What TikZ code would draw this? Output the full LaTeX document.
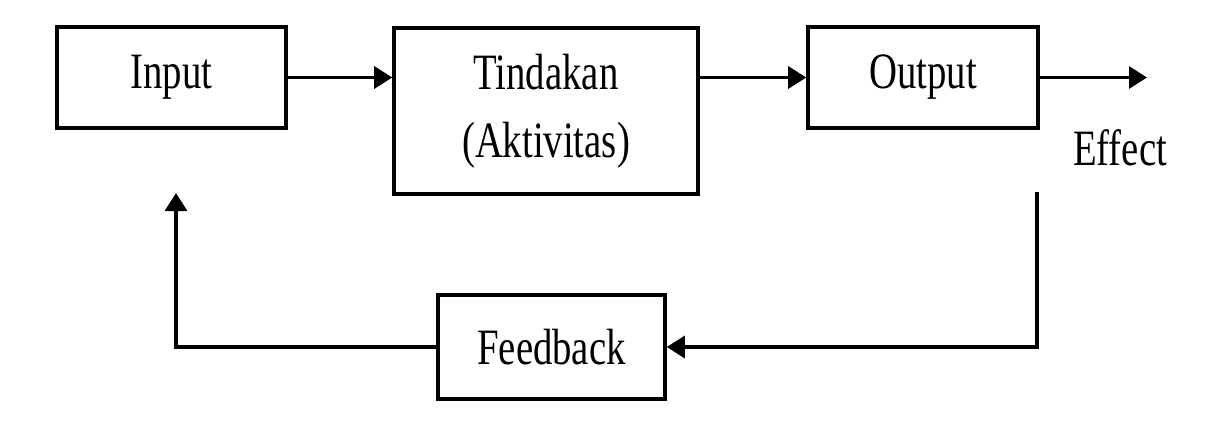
\documentclass[tikz,border=0pt]{standalone}
\usepackage{fontspec}
\setmainfont{Liberation Serif}
\usepackage{graphicx}
\usetikzlibrary{arrows.meta,positioning,calc}

\newcommand{\sempit}[1]{\scalebox{0.76}[1]{#1}}

\begin{document}
\begin{tikzpicture}[>={Triangle[length=0.36cm,width=0.44cm]},
    kotak/.style={draw,line width=2pt,align=center,font=\fontsize{29}{38.6}\selectfont},
    panah/.style={->,line width=1.8pt}]
    \useasboundingbox (0,0) rectangle (24.44,-8.54);
    \node[kotak,minimum width=4.58cm,minimum height=2.02cm] (input) at (3.43,-1.55) {\sempit{Input}};
    \node[kotak,minimum width=6.08cm,minimum height=3.32cm] (tindakan) at (10.92,-2.22) {\sempit{Tindakan}\\\sempit{(Aktivitas)}};
    \node[kotak,minimum width=4.6cm,minimum height=2.02cm] (output) at (18.46,-1.55) {\sempit{Output}};
    \node[kotak,minimum width=4.54cm,minimum height=2.08cm] (feedback) at (11.03,-6.94) {\sempit{Feedback}};
    \node[font=\fontsize{29}{38.6}\selectfont] (effect) at (22.4,-2.95) {\sempit{Effect}};
    \coordinate (ujung) at (22.94,-1.55);
    \coordinate (turun) at (20.74,-3.84);
    \coordinate (naik) at (3.52,-3.86);
    \draw[panah] (input.east) -- (input.east -| tindakan.west);
    \draw[panah] (tindakan.east |- output.west) -- (output.west);
    \draw[panah] (output.east) -- (ujung);
    \draw[panah] (turun) |- (feedback.east);
    \draw[panah] (feedback.west) -| (naik);
\end{tikzpicture}
\end{document}
